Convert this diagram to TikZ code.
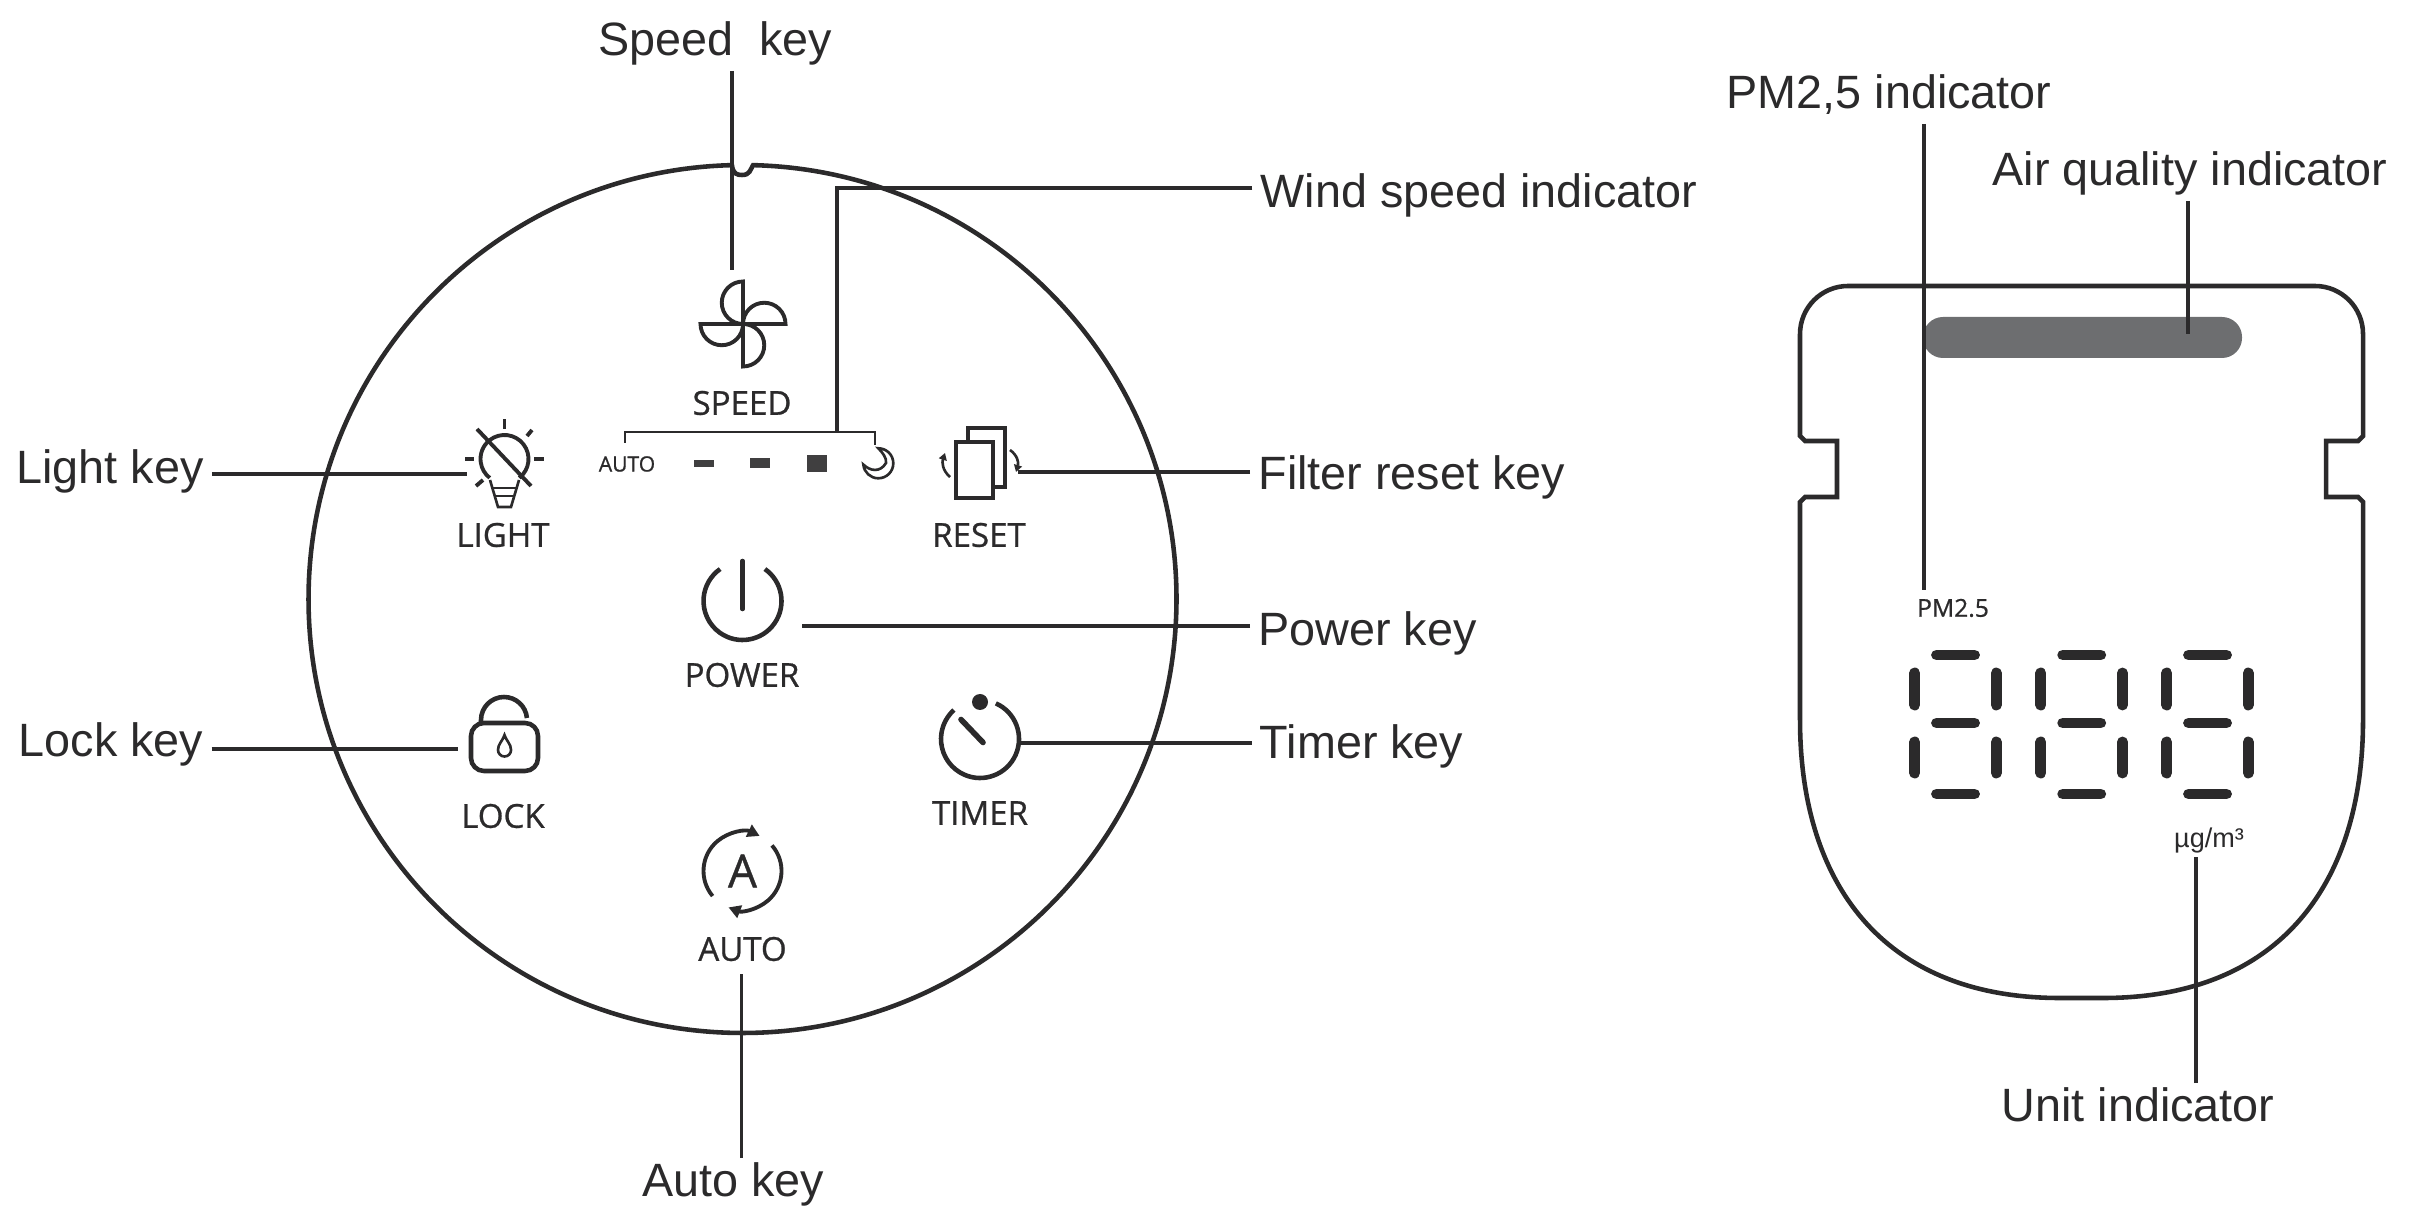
\documentclass[tikz,border=0pt]{standalone}
\usepackage{fontspec}
\setmainfont{Liberation Sans}
\newfontfamily\panelfont[FakeBold=0.8]{Open Sans}
\usepackage{tikz}
\usetikzlibrary{positioning, arrows.meta}
\definecolor{inkgrey}{HTML}{2B2A2B}
\definecolor{barcol}{HTML}{6D6E70}
\tikzset{
  callout/.style={font=\fontsize{13.3}{16}\selectfont, text=inkgrey, inner xsep=2.2pt, inner ysep=1.5pt, text height=1.75ex, text depth=.5ex},
  keylabel/.style={font=\panelfont\fontsize{9.4}{11}\selectfont, text=inkgrey, inner sep=0pt},
  tinylabel/.style={font=\panelfont\fontsize{7}{9}\selectfont, text=inkgrey, inner sep=0pt},
  leader/.style={draw=inkgrey, line width=1pt},
  outline/.style={draw=inkgrey, line width=1.3pt},
  icon/.style={draw=inkgrey, line width=1.1pt},
  thinicon/.style={draw=inkgrey, line width=.75pt},
  segment/.style={draw=inkgrey, line width=3.1pt, line cap=round}
}
\begin{document}
\begin{tikzpicture}
\useasboundingbox (0,0) rectangle (24.2,12.18);

% round panel with its notch
\draw[outline] (7.425,6.19)+(88.6:4.34) arc[start angle=88.6, end angle=-268.6, radius=4.34]
  .. controls (7.33,10.44) and (7.37,10.43) .. (7.42,10.43) .. controls (7.5,10.43) and (7.5,10.48) .. cycle;

% callout labels
\node[callout] (speedkey) at (7.15,11.74) {Speed~~key};
\node[callout,anchor=west] (windind) at (12.523,10.22) {Wind speed indicator};
\node[callout,anchor=west] (resetkey) at (12.50,7.40) {Filter reset key};
\node[callout,anchor=west] (powerkey) at (12.50,5.84) {Power key};
\node[callout,anchor=west] (timerkey) at (12.515,4.71) {Timer key};
\node[callout] (lightkey) at (1.10,7.46) {Light key};
\node[callout] (lockkey) at (1.11,4.73) {Lock key};
\node[callout] (autokey) at (7.33,.33) {Auto key};
\node[callout] (pmind) at (18.89,11.21) {PM2,5 indicator};
\node[callout] (airind) at (21.90,10.44) {Air quality indicator};
\node[callout] (unitind) at (21.38,1.08) {Unit indicator};

% key names
\node[keylabel] (speedname) at (7.42,8.15) {SPEED};
\node[keylabel] (lightname) at (5.03,6.83) {LIGHT};
\node[keylabel] (resetname) at (9.79,6.83) {RESET};
\node[keylabel] (powername) at (7.42,5.43) {POWER};
\node[keylabel] (lockname) at (5.03,4.02) {LOCK};
\node[keylabel] (timername) at (9.80,4.05) {TIMER};
\node[keylabel] (autoname) at (7.425,2.69) {AUTO};
\node[tinylabel,font=\panelfont\fontsize{6}{8}\selectfont] (autosmall) at (6.27,7.54) {AUTO};
\node[tinylabel] (pmname) at (19.53,6.10) {PM2.5};
\node[tinylabel,font=\fontsize{7.7}{9}\selectfont] (unitname) at (22.09,3.77) {µg/m³};

% ends of the leaders
\coordinate (speedend) at (7.32,9.48);
\coordinate (windcorner) at (8.37,10.30);
\coordinate (windjoin) at (8.37,7.86);
\coordinate (resetend) at (10.18,7.46);
\coordinate (powerend) at (8.02,5.92);
\coordinate (timerend) at (10.20,4.75);
\coordinate (lightend) at (4.67,7.44);
\coordinate (lockend) at (4.575,4.69);
\coordinate (autoend) at (7.416,2.44);
\coordinate (pmend) at (19.24,6.28);
\coordinate (airend) at (21.88,8.84);
\coordinate (unitend) at (21.96,3.61);

% air quality bar
\fill[barcol,rounded corners=.2cm] (19.23,8.60) rectangle (22.42,9.01);

% draw leaders
\draw[leader] (speedkey.south -| speedend) -- (speedend);
\draw[leader] (windind.west |- windcorner) -- (windcorner) -- (windjoin);
\draw[leader] (resetkey.west |- resetend) -- (resetend);
\draw[leader] (powerkey.west |- powerend) -- (powerend);
\draw[leader] (timerkey.west |- timerend) -- (timerend);
\draw[leader] (lightkey.east |- lightend) -- (lightend);
\draw[leader] (lockkey.east |- lockend) -- (lockend);
\draw[leader] (autokey.north -| autoend) -- (autoend);
\draw[leader] (pmind.south -| pmend) -- (pmend);
\draw[leader] (airind.south -| airend) -- (airend);
\draw[leader] (unitind.north -| unitend) -- (unitend);

% bracket over the speed steps
\draw[thinicon] (6.25,7.75) -- (6.25,7.86) -- (8.75,7.86) -- (8.75,7.73);

% speed steps and night mode
\foreach \x/\h in {7.035/.07, 7.60/.1, 8.165/.17}
\fill[inkgrey!90] (\x-.1,7.545-\h/2) rectangle (\x+.1,7.545+\h/2);
\draw[thinicon] (8.783,7.697) arc[start angle=90, end angle=-175, radius=.15]
  .. controls (8.70,7.47) and (8.80,7.45) .. (8.86,7.55) .. controls (8.87,7.6) and (8.82,7.66) .. cycle;

% fan
\foreach \a in {0,90,180,270}
\draw[icon,shift={(7.43,8.94)},rotate=\a] (0,0) -- (0,.425) arc[start angle=90, end angle=270, radius=.2125];

% bulb
\draw[icon] (5.045,7.59)+(-52:.24) arc[start angle=-52, end angle=232, radius=.24];
\draw[thinicon] (4.90,7.38) -- (4.98,7.11) -- (5.11,7.11) -- (5.19,7.38);
\draw[thinicon] (4.92,7.30) -- (5.17,7.30);
\draw[thinicon] (4.95,7.22) -- (5.14,7.22);
\draw[icon] (4.77,7.89) -- (5.31,7.32);
\foreach \xa/\ya/\xb/\yb in {5.045/7.89/5.045/7.99, 4.65/7.59/4.74/7.59, 5.34/7.59/5.44/7.59, 5.27/7.82/5.32/7.88, 4.76/7.32/4.83/7.38}
\draw[icon] (\xa,\ya) -- (\xb,\yb);

% filter sheets and turn arrows
\draw[icon] (9.56,7.197) rectangle (9.933,7.763);
\draw[icon] (9.68,7.763) -- (9.68,7.90) -- (10.05,7.90) -- (10.05,7.31) -- (9.933,7.31);
\draw[thinicon,-{Triangle[length=.07cm,width=.08cm]}] (9.50,7.41) .. controls (9.42,7.48) and (9.42,7.56) .. (9.45,7.65);
\draw[thinicon,-{Triangle[length=.07cm,width=.08cm]}] (10.10,7.68) .. controls (10.17,7.63) and (10.19,7.56) .. (10.16,7.46);

% power
\draw[icon,line width=1.3pt] (7.425,6.17)+(55:.39) arc[start angle=55, end angle=-235, radius=.39];
\draw[icon,line width=1.3pt,line cap=round] (7.425,6.57) -- (7.425,6.09);

% lock
\draw[icon,line width=1.3pt,rounded corners=.13cm] (4.71,4.47) rectangle (5.38,4.95);
\draw[icon,line width=1.3pt] (4.81,4.95) -- (4.81,4.98) arc[start angle=180, end angle=5, radius=.23];
\draw[thinicon] (5.045,4.83) .. controls (5.02,4.76) and (4.98,4.74) .. (4.98,4.68)
  arc[start angle=180, end angle=360, radius=.065] .. controls (5.11,4.74) and (5.07,4.76) .. cycle;

% timer
\draw[icon,line width=1.3pt] (9.80,4.79)+(66:.39) arc[start angle=66, end angle=-228, radius=.39];
\fill[inkgrey] (9.80,5.16) circle (.08);
\draw[icon,line width=1.6pt,line cap=round] (9.61,4.985) -- (9.83,4.755);

% auto
\draw[icon,-{Triangle[length=.12cm,width=.13cm]}] (7.425,3.47)+(220:.39) arc[start angle=220, end angle=64, radius=.39];
\draw[icon,-{Triangle[length=.12cm,width=.13cm]}] (7.425,3.47)+(41:.39) arc[start angle=41, end angle=-111, radius=.39];
\node[keylabel,font=\panelfont\fontsize{13}{15}\selectfont] (autoletter) at (7.425,3.47) {A};

% display body
\draw[outline] (18,7.82) -- (18,8.84) arc[start angle=180, end angle=90, radius=.48] -- (23.15,9.32)
  arc[start angle=90, end angle=0, radius=.48] -- (23.63,7.82) -- (23.58,7.77) -- (23.26,7.77) -- (23.26,7.21)
  -- (23.58,7.21) -- (23.63,7.16) -- (23.63,4.98)
  .. controls (23.63,3.38) and (22.83,2.20) .. (21.03,2.20) -- (20.60,2.20)
  .. controls (18.80,2.20) and (18,3.38) .. (18,4.98) -- (18,7.16) -- (18.05,7.21) -- (18.37,7.21) -- (18.37,7.77) -- (18.05,7.77) -- cycle;

% seven segment digits
\foreach \d in {0,1.262,2.52}{
  \foreach \y in {5.63,4.95,4.24}
  \draw[segment] (19.555+\d-.19,\y) -- (19.555+\d+.19,\y);
  \foreach \x in {19.147,19.963}{
    \draw[segment] (\x+\d,5.45) -- (\x+\d,5.13);
    \draw[segment] (\x+\d,4.76) -- (\x+\d,4.45);
  }
}
\end{tikzpicture}
\end{document}
